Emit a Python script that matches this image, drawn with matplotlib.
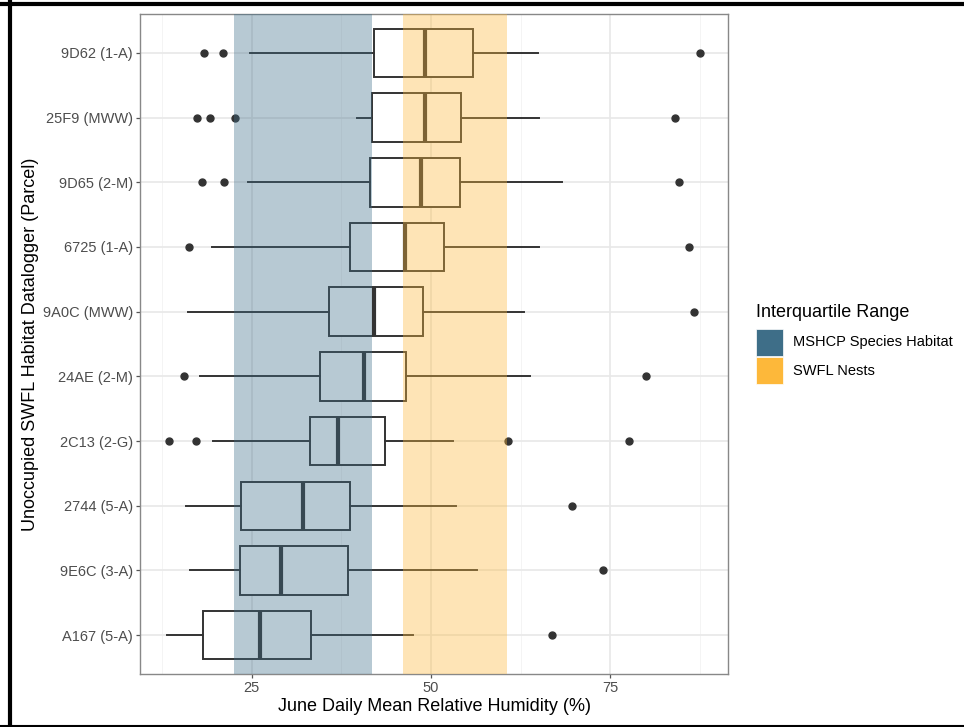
import matplotlib
matplotlib.use("Agg")
import matplotlib.pyplot as plt
from matplotlib.patches import Rectangle
from matplotlib.lines import Line2D
import numpy as np

plt.rcParams['font.family'] = ['Liberation Sans', 'DejaVu Sans']

# loggers, listed top to bottom as in the chart
loggers = ["9D62 (1-A)", "25F9 (MWW)", "9D65 (2-M)", "6725 (1-A)", "9A0C (MWW)",
           "24AE (2-M)", "2C13 (2-G)", "2744 (5-A)", "9E6C (3-A)", "A167 (5-A)"]
whisk_lo = [24.8, 39.7, 24.5, 19.4, 16.1, 17.7, 19.6, 15.8, 16.4, 13.1]
q1 = [42.1, 41.8, 41.5, 38.7, 35.7, 34.5, 33.1, 23.5, 23.4, 18.2]
median = [49.1, 49.1, 48.6, 46.4, 42.0, 40.6, 37.0, 32.2, 29.0, 26.1]
q3 = [55.8, 54.1, 54.0, 51.8, 48.9, 46.5, 43.5, 38.7, 38.4, 33.2]
whisk_hi = [64.9, 65.1, 68.3, 65.1, 62.9, 63.8, 53.0, 53.4, 56.4, 47.5]
outliers = [[18.3, 21.0, 87.5], [17.3, 19.1, 22.7, 84.0], [18.0, 21.1, 84.6],
            [16.2, 86.0], [86.6], [15.5, 79.9], [13.4, 17.2, 60.7, 77.6],
            [69.7], [74.0], [66.9]]

# interquartile ranges shown as bands
iqr_names = ["MSHCP Species Habitat", "SWFL Nests"]
iqr_lo = [22.5, 46.1]
iqr_hi = [41.8, 60.6]
iqr_colors = ["#3E6E88", "#FDB83A"]

W, H = 964, 727
fig = plt.figure(figsize=(W / 100, H / 100), dpi=100)
ax = fig.add_axes([140 / W, 1 - 674 / H, (728 - 140) / W, (674 - 14) / H])

stats = []
for i in range(len(loggers)):
    stats.append(dict(med=median[i], q1=q1[i], q3=q3[i], whislo=whisk_lo[i],
                      whishi=whisk_hi[i], fliers=outliers[i], label=loggers[i]))
pos = np.arange(len(loggers))[::-1]

line_c = "#333333"
ax.bxp(stats, positions=pos, widths=0.75, orientation="horizontal", patch_artist=True,
       showcaps=False,
       boxprops=dict(facecolor="white", edgecolor=line_c, linewidth=1.4),
       whiskerprops=dict(color=line_c, linewidth=1.4),
       medianprops=dict(color=line_c, linewidth=3.0),
       flierprops=dict(marker="o", markerfacecolor=line_c, markeredgecolor=line_c,
                       markersize=5),
       zorder=2)

for lo, hi, c in zip(iqr_lo, iqr_hi, iqr_colors):
    ax.axvspan(lo, hi, color=c, alpha=0.37, lw=0, zorder=3)

ax.set_xlim(9.4, 91.4)
ax.set_ylim(-0.6, 9.6)
ax.set_xticks([25, 50, 75])
ax.set_xticks([12.5, 37.5, 62.5, 87.5], minor=True)
ax.set_yticks(pos)
ax.set_yticklabels(loggers)
ax.grid(True, which="major", color="#E8E8E8", linewidth=1.2, zorder=0)
ax.grid(True, which="minor", axis="x", color="#F2F2F2", linewidth=0.6, zorder=0)
ax.set_axisbelow(True)
ax.tick_params(which="major", length=3, width=0.9, color="#555555",
               labelsize=10.5, labelcolor="#4D4D4D", pad=2)
ax.tick_params(which="minor", length=0)
for s in ax.spines.values():
    s.set_color("#888888")
    s.set_linewidth(1.0)

ax.set_xlabel("June Daily Mean Relative Humidity (%)", fontsize=13, labelpad=2)
ax.set_ylabel("Unoccupied SWFL Habitat Datalogger (Parcel)", fontsize=13, labelpad=3)

# legend drawn in figure pixels
fig.text(756 / W, 1 - 312 / H, "Interquartile Range", fontsize=13, va="center", ha="left")
for k, (name, c) in enumerate(zip(iqr_names, iqr_colors)):
    y0 = 329 + k * 28
    fig.add_artist(Rectangle((756 / W, 1 - (y0 + 27) / H), 27 / W, 27 / H,
                             transform=fig.transFigure, facecolor=c, edgecolor="white", lw=0.5))
    fig.text(793 / W, 1 - (y0 + 13.5) / H, name, fontsize=10.5, va="center", ha="left")

# black frame around the picture
fig.add_artist(Line2D([0, 1], [1 - 4 / H, 1 - 4 / H], transform=fig.transFigure, color="black", lw=3))
fig.add_artist(Line2D([9.5 / W, 9.5 / W], [0, 1 - 2 / H], transform=fig.transFigure, color="black", lw=3))
fig.add_artist(Line2D([0, 1], [1 - 725.5 / H, 1 - 725.5 / H], transform=fig.transFigure, color="black", lw=1.5))

fig.savefig("out.png", dpi=100)
